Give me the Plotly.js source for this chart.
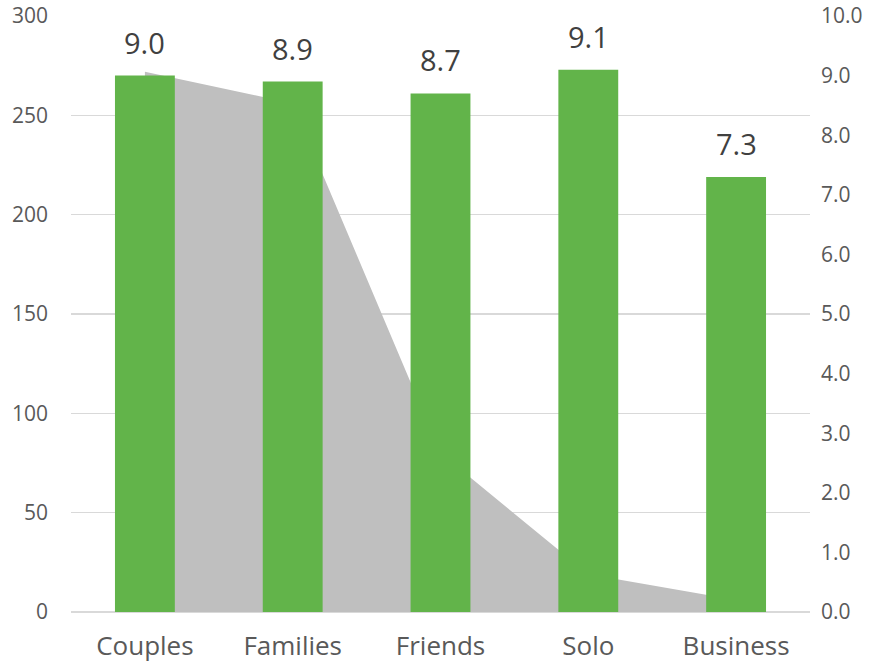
<!DOCTYPE html>
<html><head><meta charset="utf-8">
<script src="https://cdn.plot.ly/plotly-3.0.1.min.js"></script>
<style>html,body{margin:0;padding:0;background:#fff}#chart{width:884px;height:665px}</style>
</head><body><div id="chart"></div>
<script>
const categories = ["Couples", "Families", "Friends", "Solo", "Business"];
const reviewCounts = [272, 256, 80, 19, 6];
const avgScores = [9.0, 8.9, 8.7, 9.1, 7.3];
const leftTicks = [0, 50, 100, 150, 200, 250, 300];
const rightTicks = [0, 1, 2, 3, 4, 5, 6, 7, 8, 9, 10];

const FONT = "Open Sans, Noto Sans, sans-serif";

const traces = [
  {
    type: "scatter", mode: "lines", x: categories, y: reviewCounts,
    fill: "tozeroy", fillcolor: "#bfbfbf", line: {width: 0, color: "#bfbfbf"},
    hoverinfo: "skip", yaxis: "y"
  },
  {
    type: "bar", x: categories, y: avgScores, yaxis: "y2",
    marker: {color: "#62b44a", line: {width: 0}}
  }
];

const annotations = categories.map((c, i) => ({
  x: c, y: avgScores[i], xref: "x", yref: "y2",
  text: avgScores[i].toFixed(1), showarrow: false,
  yanchor: "bottom", yshift: 12,
  font: {family: FONT, size: 29, color: "#404040"}
}));

const layout = {
  width: 884, height: 665,
  margin: {l: 71, r: 74, t: 16, b: 53},
  paper_bgcolor: "#fff", plot_bgcolor: "#fff",
  showlegend: false, bargap: 0.595,
  font: {family: FONT, color: "#595959"},
  xaxis: {
    type: "category", range: [-0.5, 4.5], showgrid: false, zeroline: false,
    showline: false, ticks: "", tickfont: {size: 26, color: "#595959"},
    ticklabelstandoff: 16
  },
  yaxis: {
    range: [0, 300], tickvals: leftTicks, ticktext: leftTicks.map(String),
    showgrid: true, gridcolor: "#d9d9d9", gridwidth: 1.5, zeroline: true,
    zerolinecolor: "#d9d9d9", zerolinewidth: 1.5, showline: false, ticks: "",
    tickfont: {size: 21, color: "#595959"}, ticklabelstandoff: 22
  },
  yaxis2: {
    range: [0, 10], overlaying: "y", side: "right",
    tickvals: rightTicks, ticktext: rightTicks.map(v => v.toFixed(1)),
    showgrid: false, zeroline: false, showline: false, ticks: "",
    tickfont: {size: 21, color: "#595959"}, ticklabelstandoff: 10
  },
  annotations: annotations
};

Plotly.newPlot("chart", traces, layout, {displayModeBar: false, staticPlot: true});
</script></body></html>
